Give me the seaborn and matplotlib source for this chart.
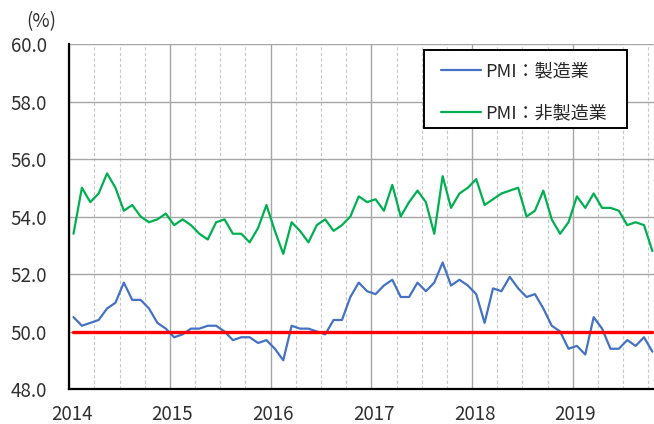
import numpy as np
import pandas as pd
import matplotlib
matplotlib.use("Agg")
import matplotlib.pyplot as plt
from matplotlib.patches import Rectangle
import seaborn as sns

# monthly PMI, Jan 2014 - Oct 2019
years = ["2014", "2015", "2016", "2017", "2018", "2019"]
pmi_mfg = [50.5, 50.2, 50.3, 50.4, 50.8, 51.0, 51.7, 51.1, 51.1, 50.8, 50.3, 50.1,
           49.8, 49.9, 50.1, 50.1, 50.2, 50.2, 50.0, 49.7, 49.8, 49.8, 49.6, 49.7,
           49.4, 49.0, 50.2, 50.1, 50.1, 50.0, 49.9, 50.4, 50.4, 51.2, 51.7, 51.4,
           51.3, 51.6, 51.8, 51.2, 51.2, 51.7, 51.4, 51.7, 52.4, 51.6, 51.8, 51.6,
           51.3, 50.3, 51.5, 51.4, 51.9, 51.5, 51.2, 51.3, 50.8, 50.2, 50.0, 49.4,
           49.5, 49.2, 50.5, 50.1, 49.4, 49.4, 49.7, 49.5, 49.8, 49.3]
pmi_nonmfg = [53.4, 55.0, 54.5, 54.8, 55.5, 55.0, 54.2, 54.4, 54.0, 53.8, 53.9, 54.1,
              53.7, 53.9, 53.7, 53.4, 53.2, 53.8, 53.9, 53.4, 53.4, 53.1, 53.6, 54.4,
              53.5, 52.7, 53.8, 53.5, 53.1, 53.7, 53.9, 53.5, 53.7, 54.0, 54.7, 54.5,
              54.6, 54.2, 55.1, 54.0, 54.5, 54.9, 54.5, 53.4, 55.4, 54.3, 54.8, 55.0,
              55.3, 54.4, 54.6, 54.8, 54.9, 55.0, 54.0, 54.2, 54.9, 53.9, 53.4, 53.8,
              54.7, 54.3, 54.8, 54.3, 54.3, 54.2, 53.7, 53.8, 53.7, 52.8]
baseline = 50.0

labels = ["PMI：製造業", "PMI：非製造業"]
colors = ["#4472C4", "#00B050"]

n = len(pmi_mfg)
month = np.arange(n) + 0.5  # points sit in the middle of each month slot
df = pd.DataFrame({"month": np.concatenate([month, month]),
                   "value": pmi_mfg + pmi_nonmfg,
                   "series": [labels[0]] * n + [labels[1]] * n})

sns.set_style("white")
plt.rcParams["font.family"] = ["Noto Sans CJK JP", "DejaVu Sans"]

fig = plt.figure(figsize=(6.54, 4.24), dpi=100)
ax = fig.add_axes([69.3 / 654, 35 / 424, 587.3 / 654, 345 / 424])

# grid: quarterly dashed, yearly solid, horizontal every 2.0
for q in range(0, 72, 3):
    if q % 12 == 0:
        ax.axvline(q, color="#A6A6A6", lw=1.0, zorder=0)
    else:
        ax.axvline(q, color="#C8C8C8", lw=0.8, ls=(0, (3, 2)), zorder=0)
for yv in np.arange(48, 60.1, 2):
    ax.axhline(yv, color="#A6A6A6", lw=1.0, zorder=0)

sns.lineplot(data=df, x="month", y="value", hue="series", palette=colors,
             linewidth=1.6, ax=ax, zorder=3)
ax.plot(month, [baseline] * n, color="#FF0000", lw=2.4, zorder=4)

ax.set_xlim(0, 70)
ax.set_ylim(48, 60)
ax.set_yticks(np.arange(48, 60.1, 2))
ax.set_yticklabels([f"{v:.1f}" for v in np.arange(48, 60.1, 2)])
ax.set_xticks(np.arange(len(years)) * 12 + 0.3)
ax.set_xticklabels(years)
ax.tick_params(axis="y", length=0, pad=16, labelsize=13.5, labelcolor="#303030")
ax.tick_params(axis="x", length=0, pad=11, labelsize=13.5, labelcolor="#303030")
ax.set_xlabel("")
ax.set_ylabel("")

for s in ["top", "right"]:
    ax.spines[s].set_visible(False)
ax.spines["left"].set_color("black")
ax.spines["left"].set_linewidth(1.6)
ax.spines["bottom"].set_color("black")
ax.spines["bottom"].set_linewidth(1.6)

fig.text(41.5 / 654, 1 - 21.5 / 424, "(%)", ha="center", va="center",
         fontsize=13.5, color="#303030")

# legend box drawn separately so the padding can match
box = Rectangle(((424 - 69.3) / 587.3, (389 - 128) / 345), 203 / 587.3, 78 / 345,
                transform=ax.transAxes, facecolor="white", edgecolor="black",
                lw=1.4, zorder=5, clip_on=False)
ax.add_patch(box)

handles, _ = ax.get_legend_handles_labels()
leg = ax.legend(handles[:2], labels, loc="upper left",
                bbox_to_anchor=((441 - 69.3) / 587.3, (389 - 62.5) / 345),
                fontsize=13, frameon=False, handlelength=2.2, handletextpad=0.23,
                labelspacing=1.3, borderpad=0, borderaxespad=0)
leg.set_zorder(6)

fig.savefig("out.png", dpi=100)
